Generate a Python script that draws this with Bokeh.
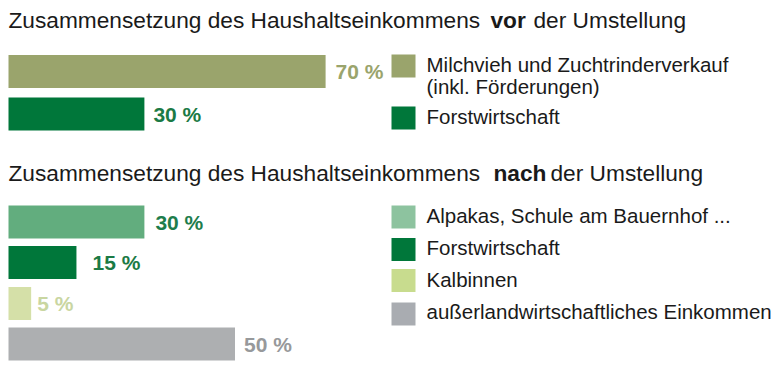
from bokeh.plotting import figure
from bokeh.models import Range1d, ColumnDataSource
from bokeh.core.properties import value
from bokeh.embed import file_html
from bokeh.resources import INLINE

# ---------------- data ----------------
before_categories = ["Milchvieh und Zuchtrinderverkauf", "Forstwirtschaft"]
before_values = [70, 30]
before_legend = [["Milchvieh und Zuchtrinderverkauf", "(inkl. Förderungen)"], ["Forstwirtschaft"]]

after_categories = ["Alpakas, Schule am Bauernhof ...", "Forstwirtschaft", "Kalbinnen",
                    "außerlandwirtschaftliches Einkommen"]
after_values = [30, 15, 5, 50]

title_before = ["Zusammensetzung des Haushaltseinkommens ", "vor", " der Umstellung"]
title_after = ["Zusammensetzung des Haushaltseinkommens ", "nach", " der Umstellung"]

# ---------------- styles ----------------
before_bar_colors = ["#9aa46c", "#00773a"]
before_label_colors = ["#9aa46c", "#1b7a45"]
before_legend_colors = ["#9aa46c", "#00773a"]

after_bar_colors = ["#62ad7e", "#00773a", "#d5e0a8", "#adafb1"]
after_label_colors = ["#1e7d4c", "#1b7a45", "#c9d6a1", "#97999b"]
after_legend_colors = ["#8dc39f", "#00773a", "#c8dc8e", "#a9acb1"]

W, H = 782, 368
X0 = 8                 # pixel where 0 % sits
PX_PER_PCT = 4.53
FONT = "Liberation Sans"
TXT = "#1a1a1a"
TY = -8                # text baseline correction

def px(x):
    """page pixel -> percent data units"""
    return (x - X0) / PX_PER_PCT

p = figure(width=W, height=H, output_backend="svg", toolbar_location=None,
           x_range=Range1d(px(0), px(W)), y_range=Range1d(H, 0),
           min_border=0, outline_line_color=None, background_fill_color="white",
           border_fill_color="white")
p.axis.visible = False
p.grid.visible = False

BAR_H = 33

def section(values, centers, bar_colors, label_colors, label_offsets):
    src = ColumnDataSource(dict(
        y=centers, right=values, color=bar_colors,
        label=[f"{v} %" for v in values],
        ly=[c + 8 + TY for c in centers], lc=label_colors, off=label_offsets))
    p.hbar(y="y", left=0, right="right", height=BAR_H, color="color", line_color=None, source=src)
    p.text(x="right", y="ly", text="label", text_color="lc", x_offset="off",
           text_font=value(FONT), text_font_size="21px", text_font_style="bold",
           text_baseline="alphabetic", source=src)

section(before_values, [71, 113.5], before_bar_colors, before_label_colors, [10, 9])
section(after_values, [221.5, 262, 303, 343.5], after_bar_colors, after_label_colors, [11, 16, 6, 9])

# titles
def title(parts, xs, y):
    for t, x, st in zip(parts, xs, ["normal", "bold", "normal"]):
        p.text(x=[px(x)], y=[y + TY], text=[t.strip()], text_color=TXT,
               text_font=value(FONT), text_font_size="22.7px", text_font_style=st,
               text_baseline="alphabetic")

title(title_before, [8, 490, 533], 27)
title(title_after, [8, 493, 550], 180)

# legends
def legend(colors, centers, lines_list, baselines):
    p.rect(x=[px(403)] * len(colors), y=centers, width=24 / PX_PER_PCT, height=23,
           color=colors, line_color=None)
    xs, ys, ts = [], [], []
    for lines, b in zip(lines_list, baselines):
        for i, ln in enumerate(lines):
            xs.append(px(426)); ys.append(b + TY + i * 22.3); ts.append(ln)
    p.text(x=xs, y=ys, text=ts, text_color=TXT, text_font=value(FONT),
           text_font_size="20.5px", text_baseline="alphabetic")

legend(before_legend_colors, [65.5, 117.5], before_legend, [71.7, 124])
legend(after_legend_colors, [216.5, 249, 280, 313.5], [[c] for c in after_categories],
       [223.3, 255, 286.7, 319.3])

open("out.html", "w").write(file_html(p, INLINE))
